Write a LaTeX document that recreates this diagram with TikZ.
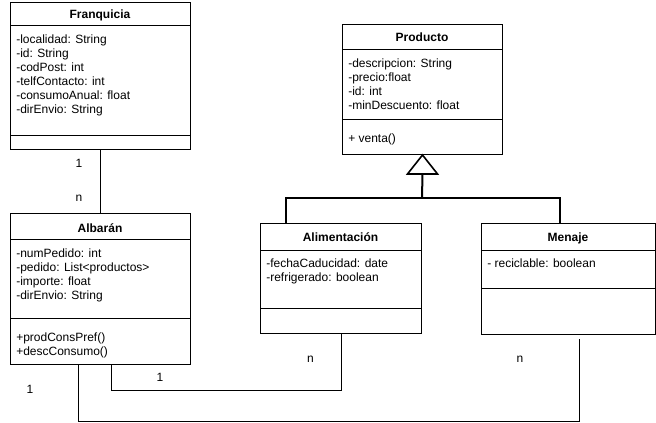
\documentclass[tikz,border=0pt]{standalone}
\usepackage{fontspec}
\setmainfont{Liberation Sans}
\usetikzlibrary{calc}
% one drawing unit = one pixel of the 656 x 423 canvas
\def\pxl{0.75pt}
\begin{document}
\begin{tikzpicture}[x=0.75pt,y=-0.75pt,
  classbox/.style={draw, line width=0.75pt, rectangle, inner sep=0pt, anchor=north west},
  classtitle/.style={font=\fontsize{9}{10.5}\selectfont\bfseries, inner sep=0pt, anchor=base},
  members/.style={font=\fontsize{9}{10.5}\selectfont, inner sep=0pt, anchor=north west, align=left},
  mult/.style={font=\fontsize{9}{10.5}\selectfont, inner sep=0pt},
  compartment/.style={line width=0.75pt},
  assoc/.style={draw, line width=0.75pt},
  generalization/.style={line width=1.5pt}
]
\useasboundingbox (0,0) rectangle (656,423);

% ---------- Franquicia ----------
\node[classbox, minimum width=180*\pxl, minimum height=147*\pxl] (fra) at (10,2) {};
\draw[compartment] ([yshift=-24*\pxl]fra.north west) -- ([yshift=-24*\pxl]fra.north east);
\draw[compartment] ([yshift=14*\pxl]fra.south west) -- ([yshift=14*\pxl]fra.south east);
\node[classtitle] (fraT) at (100,19) {Franquicia};
\node[members] (fraA) at (16,34.5) {-localidad: String\\-id: String\\-codPost: int\\-telfContacto: int\\-consumoAnual: float\\-dirEnvio: String};

% ---------- Albarán ----------
\node[classbox, minimum width=180*\pxl, minimum height=151*\pxl] (alb) at (10,213) {};
\draw[compartment] ([yshift=-27*\pxl]alb.north west) -- ([yshift=-27*\pxl]alb.north east);
\draw[compartment] ([yshift=46*\pxl]alb.south west) -- ([yshift=46*\pxl]alb.south east);
\node[classtitle] (albT) at (100,232.5) {Albarán};
\node[members] (albA) at (16,248.2) {-numPedido: int\\-pedido: List<productos>\\-importe: float\\-dirEnvio: String};
\node[members] (albM) at (16,332.2) {+prodConsPref()\\+descConsumo()};

% ---------- Producto ----------
\node[classbox, minimum width=160*\pxl, minimum height=130*\pxl] (prod) at (342,24) {};
\draw[compartment] ([yshift=-26*\pxl]prod.north west) -- ([yshift=-26*\pxl]prod.north east);
\draw[compartment] ([yshift=35*\pxl]prod.south west) -- ([yshift=35*\pxl]prod.south east);
\node[classtitle] (prodT) at (422,41.7) {Producto};
\node[members] (prodA) at (348,58.2) {-descripcion: String\\-precio:float\\-id: int\\-minDescuento: float};
\node[members] (prodM) at (348,133.2) {+ venta()};

% ---------- Alimentación ----------
\node[classbox, minimum width=161*\pxl, minimum height=110*\pxl] (ali) at (260,223) {};
\draw[compartment] ([yshift=-28*\pxl]ali.north west) -- ([yshift=-28*\pxl]ali.north east);
\draw[compartment] ([yshift=25*\pxl]ali.south west) -- ([yshift=25*\pxl]ali.south east);
\node[classtitle] (aliT) at (340.5,242) {Alimentación};
\node[members] (aliA) at (266,258.2) {-fechaCaducidad: date\\-refrigerado: boolean};

% ---------- Menaje ----------
\node[classbox, minimum width=174*\pxl, minimum height=111*\pxl] (men) at (481,223) {};
\draw[compartment] ([yshift=-28*\pxl]men.north west) -- ([yshift=-28*\pxl]men.north east);
\draw[compartment] ([yshift=46*\pxl]men.south west) -- ([yshift=46*\pxl]men.south east);
\node[classtitle] (menT) at (568,242) {Menaje};
\node[members] (menA) at (487,258.2) {- reciclable: boolean};

% ---------- generalization ----------
\coordinate (gbase) at ([yshift=-19*\pxl]prod.south);
\coordinate (gbar) at (422,198);
\draw[line width=1.2pt, fill=white, line join=miter] (prod.south) -- ([xshift=15*\pxl]gbase) -- ([xshift=-15*\pxl]gbase) -- cycle;
\draw[generalization] (gbase) -- (gbar);
\draw[generalization] ([xshift=26*\pxl]ali.north west) |- (gbar) -| ([xshift=79*\pxl]men.north west);

% ---------- associations ----------
\draw[assoc] (fra) -- (alb);
\node[mult] (m1) at (79,163) {1};
\node[mult] (m2) at (79,198) {n};

\draw[assoc] ([xshift=101*\pxl]alb.south west) -- ++(0,26) -| (ali.south);
\node[mult] (m3) at (160,377.5) {1};
\node[mult] (m4) at (310.5,359) {n};

\coordinate (menEnd) at ([xshift=98*\pxl, yshift=-4*\pxl]men.south west);
\draw[assoc] ([xshift=68*\pxl]alb.south west) -- ++(0,56) -| (menEnd);
\node[mult] (m5) at (30,389) {1};
\node[mult] (m6) at (520,359) {n};
\end{tikzpicture}
\end{document}
